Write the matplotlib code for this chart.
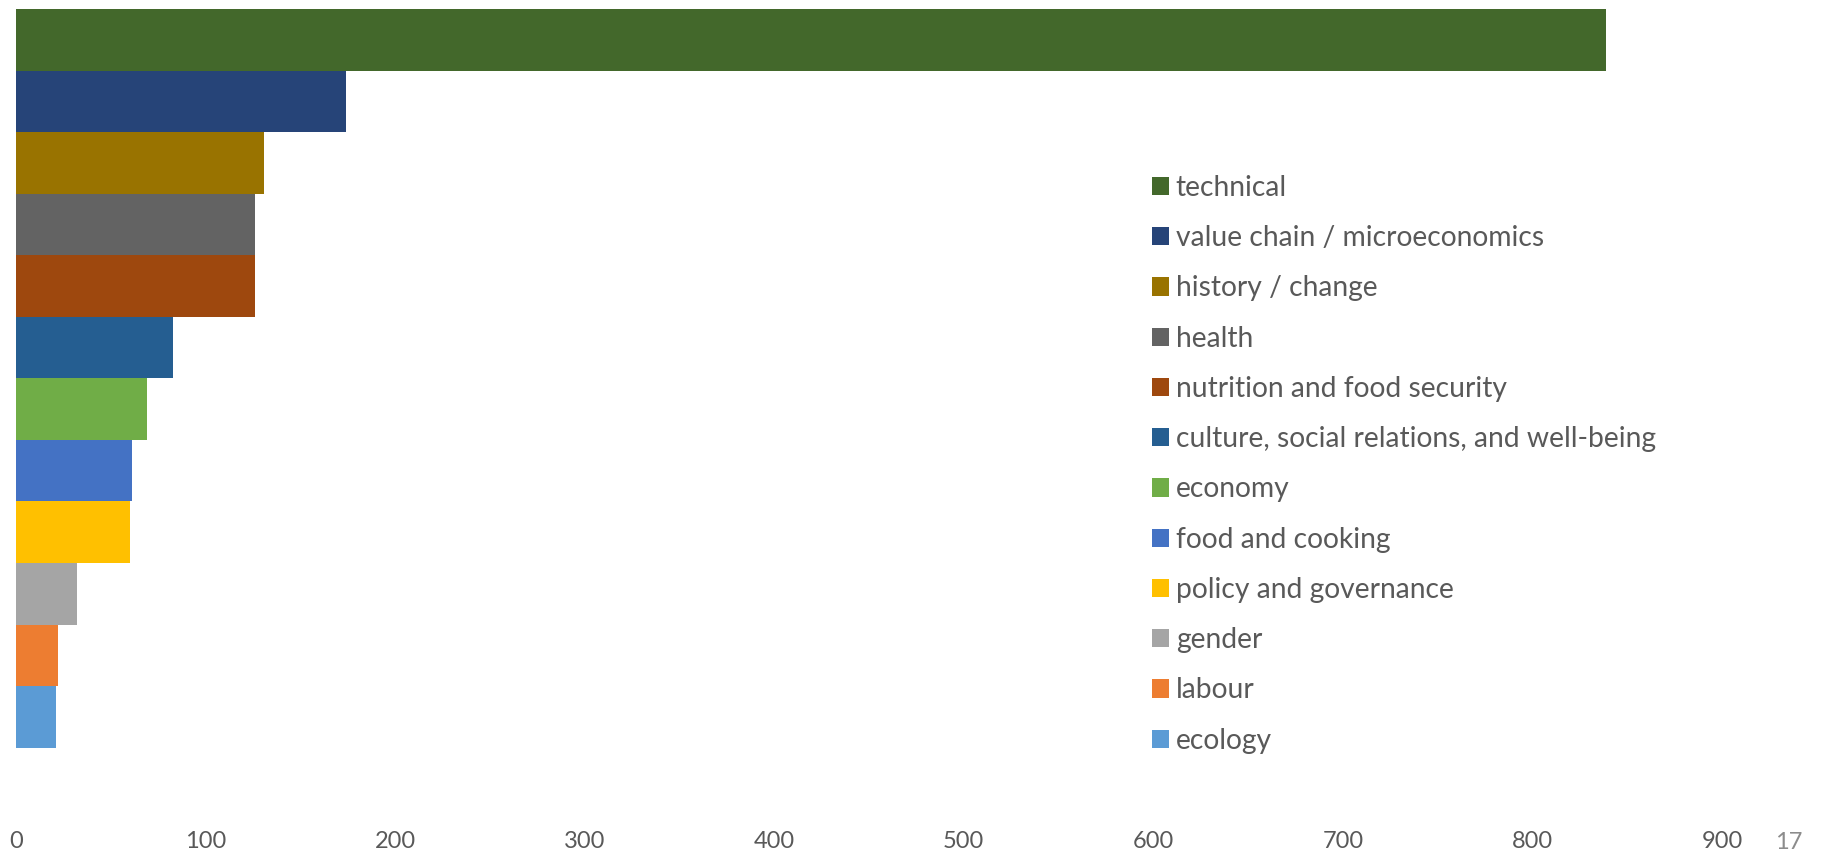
import matplotlib
matplotlib.use("Agg")
import matplotlib.pyplot as plt

plt.rcParams['font.family'] = ['Lato', 'DejaVu Sans']

# categories from top to bottom, with values
categorias = ['technical', 'value chain / microeconomics', 'history / change', 'health',
              'nutrition and food security', 'culture, social relations, and well-being',
              'economy', 'food and cooking', 'policy and governance', 'gender',
              'labour', 'ecology']
valores = [839, 174, 131, 126, 126, 83, 69, 61, 60, 32, 22, 21]
colores = ['#43682b', '#264478', '#997300', '#636363', '#9e480e', '#255e91',
           '#70ad47', '#4472c4', '#ffc000', '#a5a5a5', '#ed7d31', '#5b9bd5']
ticks_x = [0, 100, 200, 300, 400, 500, 600, 700, 800, 900]

W, H = 1824, 855
fig = plt.figure(figsize=(W / 100, H / 100), dpi=100)
ax = fig.add_axes([16 / W, 1 - 800 / H, 1706 / W, 791 / H])

for i, (cat, val, col) in enumerate(zip(categorias, valores, colores)):
    ax.barh(i, val, height=1.0, color=col, label=cat, linewidth=0)

ax.set_xlim(0, 900)
ax.set_ylim(12.35, -0.5)
ax.set_xticks(ticks_x)
ax.set_yticks([])
for s in ax.spines.values():
    s.set_visible(False)
ax.tick_params(axis='x', length=0, pad=22, labelsize=17, labelcolor='#595959')

leg = ax.legend(loc='upper left', bbox_to_anchor=(1152 / W, 1 - 175 / H),
                bbox_transform=fig.transFigure, frameon=False, fontsize=20.3,
                handlelength=0.62, handleheight=0.62, handletextpad=0.22,
                labelspacing=0.86, borderpad=0, borderaxespad=0)
for t in leg.get_texts():
    t.set_color('#595959')

# número de diapositiva
fig.text(1789 / W, 1 - 842 / H, '17', ha='center', va='center', fontsize=17, color='#8c8c8c')

fig.savefig('out.png', dpi=100)
